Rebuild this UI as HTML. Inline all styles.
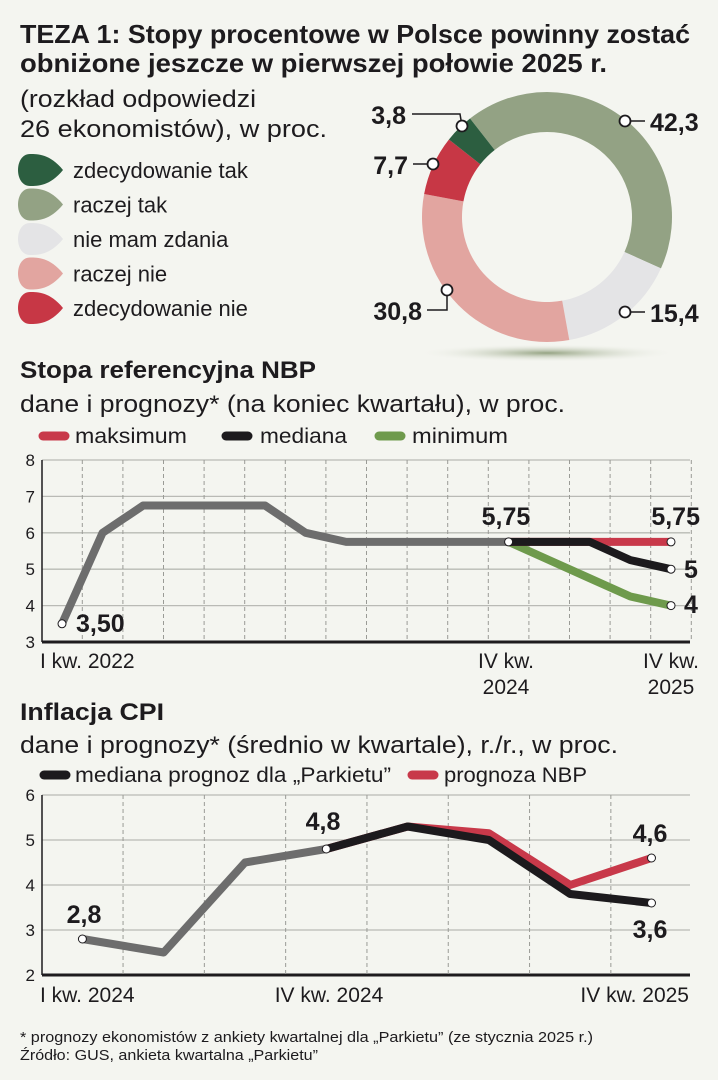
<!DOCTYPE html>
<html><head><meta charset="utf-8">
<style>
html,body{margin:0;padding:0;background:#f4f5f0;}
svg{display:block;}
text{font-family:"Liberation Sans Narrow","Liberation Sans",sans-serif;fill:#1d1b1e;}
.b{font-weight:bold;}
</style></head>
<body>
<svg id="s" width="718" height="1080" viewBox="0 0 718 1080" xmlns="http://www.w3.org/2000/svg">
<defs>
<radialGradient id="sh" cx="50%" cy="50%" r="50%">
<stop offset="0" stop-color="#8a9a76" stop-opacity="0.9"/>
<stop offset="1" stop-color="#f4f5f0" stop-opacity="0"/>
</radialGradient>
</defs>
<rect width="718" height="1080" fill="#f4f5f0"/>
<text x="20" y="43" class="b" font-size="26" textLength="670" lengthAdjust="spacingAndGlyphs">TEZA 1: Stopy procentowe w Polsce powinny zostać</text>
<text x="20" y="72" class="b" font-size="26" textLength="587" lengthAdjust="spacingAndGlyphs">obniżone jeszcze w pierwszej połowie 2025 r.</text>
<text x="20" y="107" font-size="24" textLength="236" lengthAdjust="spacingAndGlyphs" fill="#333">(rozkład odpowiedzi</text>
<text x="20" y="137" font-size="24" textLength="307" lengthAdjust="spacingAndGlyphs" fill="#333">26 ekonomistów), w proc.</text>
<g id="pieLegend"></g>
<ellipse cx="547" cy="353" rx="130" ry="9" fill="url(#sh)"/>
<g id="donut"></g>

<text x="20" y="378" class="b" font-size="24" textLength="296" lengthAdjust="spacingAndGlyphs">Stopa referencyjna NBP</text>
<text x="20" y="412" font-size="24" textLength="545" lengthAdjust="spacingAndGlyphs" fill="#333">dane i prognozy* (na koniec kwartału), w proc.</text>
<g>
<line x1="43" y1="436" x2="65" y2="436" stroke="#c8394a" stroke-width="9" stroke-linecap="round"/>
<text x="75" y="443" font-size="21" textLength="112" lengthAdjust="spacingAndGlyphs">maksimum</text>
<line x1="226" y1="436" x2="248" y2="436" stroke="#1c1a1d" stroke-width="9" stroke-linecap="round"/>
<text x="260" y="443" font-size="21" textLength="87" lengthAdjust="spacingAndGlyphs">mediana</text>
<line x1="379" y1="436" x2="401" y2="436" stroke="#6e9a4c" stroke-width="9" stroke-linecap="round"/>
<text x="412" y="443" font-size="21" textLength="96" lengthAdjust="spacingAndGlyphs">minimum</text>
</g>
<g id="c1"></g>

<text x="20" y="720" class="b" font-size="24" textLength="144" lengthAdjust="spacingAndGlyphs">Inflacja CPI</text>
<text x="20" y="753" font-size="24" textLength="598" lengthAdjust="spacingAndGlyphs" fill="#333">dane i prognozy* (średnio w kwartale), r./r., w proc.</text>
<g>
<line x1="44" y1="775" x2="66" y2="775" stroke="#1c1a1d" stroke-width="9" stroke-linecap="round"/>
<text x="75" y="782" font-size="21" textLength="316" lengthAdjust="spacingAndGlyphs">mediana prognoz dla „Parkietu”</text>
<line x1="412" y1="775" x2="434" y2="775" stroke="#c8394a" stroke-width="9" stroke-linecap="round"/>
<text x="444" y="782" font-size="21" textLength="143" lengthAdjust="spacingAndGlyphs">prognoza NBP</text>
</g>
<g id="c2"></g>

<text x="20" y="1042" font-size="15" textLength="573" lengthAdjust="spacingAndGlyphs" fill="#333">* prognozy ekonomistów z ankiety kwartalnej dla „Parkietu” (ze stycznia 2025 r.)</text>
<text x="20" y="1060" font-size="15" textLength="298" lengthAdjust="spacingAndGlyphs" fill="#333">Źródło: GUS, ankieta kwartalna „Parkietu”</text>
</svg>
<script>
// ---- donut data
const pieLabels = ["raczej tak","nie mam zdania","raczej nie","zdecydowanie nie","zdecydowanie tak"];
const pieValues = [42.3,15.4,30.8,7.7,3.8];
const pieText = ["42,3","15,4","30,8","7,7","3,8"];
const pieColors = ["#93a284","#e4e4e6","#e2a5a0","#c73745","#2c5e40"];
const legendOrder = ["zdecydowanie tak","raczej tak","nie mam zdania","raczej nie","zdecydowanie nie"];

// ---- chart 1 data (quarters I 2022 .. IV 2025)
const rateHist = [3.5,6.0,6.75,6.75,6.75,6.75,6.0,5.75,5.75,5.75,5.75,5.75];
const rateMax = [5.75,5.75,5.75,5.75,5.75];
const rateMed = [5.75,5.75,5.75,5.25,5.0];
const rateMin = [5.75,5.25,4.75,4.25,4.0];
const rateTicks = [3,4,5,6,7,8];

// ---- chart 2 data (quarters I 2024 .. IV 2025)
const cpiHist = [2.8,2.5,4.5,4.8];
const cpiMed = [4.8,5.3,5.0,3.8,3.6];
const cpiNbp = [4.8,5.3,5.15,4.0,4.6];
const cpiTicks = [2,3,4,5,6];

const NS = "http://www.w3.org/2000/svg";
function mk(parent, tag, attrs){const e=document.createElementNS(NS,tag);for(const k in attrs)e.setAttribute(k,attrs[k]);parent.appendChild(e);return e;}

// legend
const pl = document.getElementById('pieLegend');
legendOrder.forEach((lab,i)=>{
  const cy = 170 + i*34.5;
  const col = pieColors[pieLabels.indexOf(lab)];
  const p = mk(pl,'path',{d:`M63 ${cy} C50 ${cy-16} 38 ${cy-16} 30 ${cy-16} C14 ${cy-16} 14 ${cy+16} 30 ${cy+16} C38 ${cy+16} 50 ${cy+16} 63 ${cy} Z`,fill:col});
  
  
  const t = mk(pl,'text',{x:73,y:cy+8,'font-size':22});
  t.textContent = lab;
  
  
});

// donut
const dg = document.getElementById('donut');
const cx=547, cy=217, R=125, r=85;
const total = pieValues.reduce((a,b)=>a+b,0);
let ang = -38;
const labelPos = [[625,121,'start'],[625,312,'start'],[395,312,'end'],[403,164,'end'],[403,122,'end']];
function pt(a,rad){const t=a*Math.PI/180;return [cx+rad*Math.sin(t),cy-rad*Math.cos(t)];}
pieValues.forEach((v,i)=>{
  const sweep = v/total*360;
  const a0=ang, a1=ang+sweep; ang=a1;
  const [x0,y0]=pt(a0,R),[x1,y1]=pt(a1,R),[x2,y2]=pt(a1,r),[x3,y3]=pt(a0,r);
  const lg = sweep>180?1:0;
  const p = mk(dg,'path',{d:`M${x0} ${y0} A${R} ${R} 0 ${lg} 1 ${x1} ${y1} L${x2} ${y2} A${r} ${r} 0 ${lg} 0 ${x3} ${y3} Z`,fill:pieColors[i]});
  
  
});
// callouts
const callouts=[{c:[625,121],l:[[625,121],[645,121]],t:[650,131,'start']},
 {c:[625,312],l:[[625,312],[645,312]],t:[650,322,'start']},
 {c:[447,290],l:[[447,290],[447,310],[427,310]],t:[422,320,'end']},
 {c:[433,164],l:[[433,164],[413,164]],t:[408,174,'end']},
 {c:[462,126],l:[[462,126],[460,114],[412,114]],t:[406,124,'end']}];
callouts.forEach((c,i)=>{
  const pl2 = mk(dg,'polyline',{points:c.l.map(p=>p.join(',')).join(' '),fill:'none',stroke:'#1d1b1e','stroke-width':1.5});
  
  
  const ci = mk(dg,'circle',{cx:c.c[0],cy:c.c[1],r:5.5,fill:'#fff',stroke:'#1d1b1e','stroke-width':1.8});
  
  
  const t = mk(dg,'text',{x:c.t[0],y:c.t[1],'font-size':25,'font-weight':'bold','text-anchor':c.t[2]});
  t.textContent = pieText[i];
  
  
});

function axes(g, ticks, y, x0, x1, firstX, step, n){
  ticks.forEach(tv=>{
    const l = mk(g,'line',{x1:x0,x2:x1,y1:y(tv),y2:y(tv),stroke:tv===ticks[0]?'#1d1b1e':'#b9bab5','stroke-width':tv===ticks[0]?3:1.3});
    
    
    const t = mk(g,'text',{x:x0-7,y:y(tv)+6,'font-size':17,'text-anchor':'end',fill:'#333'});
    t.textContent = tv;
    
    
  });
  for(let k=0;k<n;k++){
    const gx = firstX + step*(k+0.5);
    if(gx>x1+2) break;
    const l = mk(g,'line',{x1:gx,x2:gx,y1:y(ticks[ticks.length-1]),y2:y(ticks[0]),stroke:'#9a9b96','stroke-width':1,'stroke-dasharray':'4,3'});
    
    
  }
  const ya = mk(g,'line',{x1:x0,x2:x0,y1:y(ticks[ticks.length-1]),y2:y(ticks[0]),stroke:'#1d1b1e','stroke-width':1.5});
  
  
}
function series(g, vals, startIdx, x, y, color, name){
  const pts = vals.map((v,i)=>x(startIdx+i)+','+y(v)).join(' ');
  const p = mk(g,'polyline',{points:pts,fill:'none',stroke:color,'stroke-width':8,'stroke-linejoin':'round'});
  
  
}
function dot(g,xx,yy,name){
  const c = mk(g,'circle',{cx:xx,cy:yy,r:4,fill:'#fff',stroke:'#1d1b1e','stroke-width':1});
  
  
}
function lbl(g,txt,xx,yy,anchor,size,name,bold){
  const t = mk(g,'text',{x:xx,y:yy,'font-size':size,'text-anchor':anchor});
  if(bold){t.setAttribute('font-weight','bold');}
  t.textContent = txt;
  
  
}

// chart 1
const g1 = document.getElementById('c1');
const y1 = v => 642 - (v-3)*36.4;
const x1 = i => 62 + i*40.6;
axes(g1, rateTicks, y1, 42, 690, 62, 40.6, 16);
const h = rateHist.length-1;
series(g1, rateMin, h, x1, y1, '#6e9a4c', 'line-minimum');
series(g1, rateMax, h, x1, y1, '#c8394a', 'line-maksimum');
series(g1, rateMed, h, x1, y1, '#1c1a1d', 'line-mediana');
series(g1, rateHist, 0, x1, y1, '#6d6d6d', 'line-historical-rate');
dot(g1, x1(0), y1(rateHist[0]), 'dot-start');
dot(g1, x1(h), y1(rateHist[h]), 'dot-iv-2024');
const e = h+rateMax.length-1;
dot(g1, x1(e), y1(rateMax[rateMax.length-1]), 'dot-max-end');
dot(g1, x1(e), y1(rateMed[rateMed.length-1]), 'dot-med-end');
dot(g1, x1(e), y1(rateMin[rateMin.length-1]), 'dot-min-end');
lbl(g1,'3,50',76,632,'start',25,'label-3-50',true);
lbl(g1,'5,75',506,525,'middle',25,'label-5-75-2024',true);
lbl(g1,'5,75',700,525,'end',25,'label-5-75-max',true);
lbl(g1,'5',684,578,'start',25,'label-5-med',true);
lbl(g1,'4',684,613,'start',25,'label-4-min',true);
lbl(g1,'I kw. 2022',40,668,'start',21,'x-label-i-2022');
lbl(g1,'IV kw.',506,668,'middle',21,'x-label-iv-2024');
lbl(g1,'2024',506,694,'middle',21,'x-label-2024');
lbl(g1,'IV kw.',671,668,'middle',21,'x-label-iv-2025');
lbl(g1,'2025',671,694,'middle',21,'x-label-2025');

// chart 2
const g2 = document.getElementById('c2');
const y2 = v => 975 - (v-2)*45;
const x2 = i => 82.4 + i*81.3;
axes(g2, cpiTicks, y2, 42, 690, 82.4, 81.3, 8);
const h2 = cpiHist.length-1;
series(g2, cpiNbp, h2, x2, y2, '#c8394a', 'line-prognoza-nbp');
series(g2, cpiMed, h2, x2, y2, '#1c1a1d', 'line-mediana-parkietu');
series(g2, cpiHist, 0, x2, y2, '#6d6d6d', 'line-historical-cpi');
const e2 = h2+cpiMed.length-1;
dot(g2, x2(0), y2(cpiHist[0]), 'dot-cpi-start');
dot(g2, x2(h2), y2(cpiHist[h2]), 'dot-cpi-iv-2024');
dot(g2, x2(e2), y2(cpiNbp[cpiNbp.length-1]), 'dot-nbp-end');
dot(g2, x2(e2), y2(cpiMed[cpiMed.length-1]), 'dot-med-end');
lbl(g2,'2,8',84,923,'middle',25,'label-2-8',true);
lbl(g2,'4,8',323,830,'middle',25,'label-4-8',true);
lbl(g2,'4,6',650,842,'middle',25,'label-4-6',true);
lbl(g2,'3,6',650,938,'middle',25,'label-3-6',true);
lbl(g2,'I kw. 2024',40,1002,'start',21,'x-label-i-2024');
lbl(g2,'IV kw. 2024',329,1002,'middle',21,'x-label-iv-2024');
lbl(g2,'IV kw. 2025',689,1002,'end',21,'x-label-iv-2025');
</script>
</body></html>
